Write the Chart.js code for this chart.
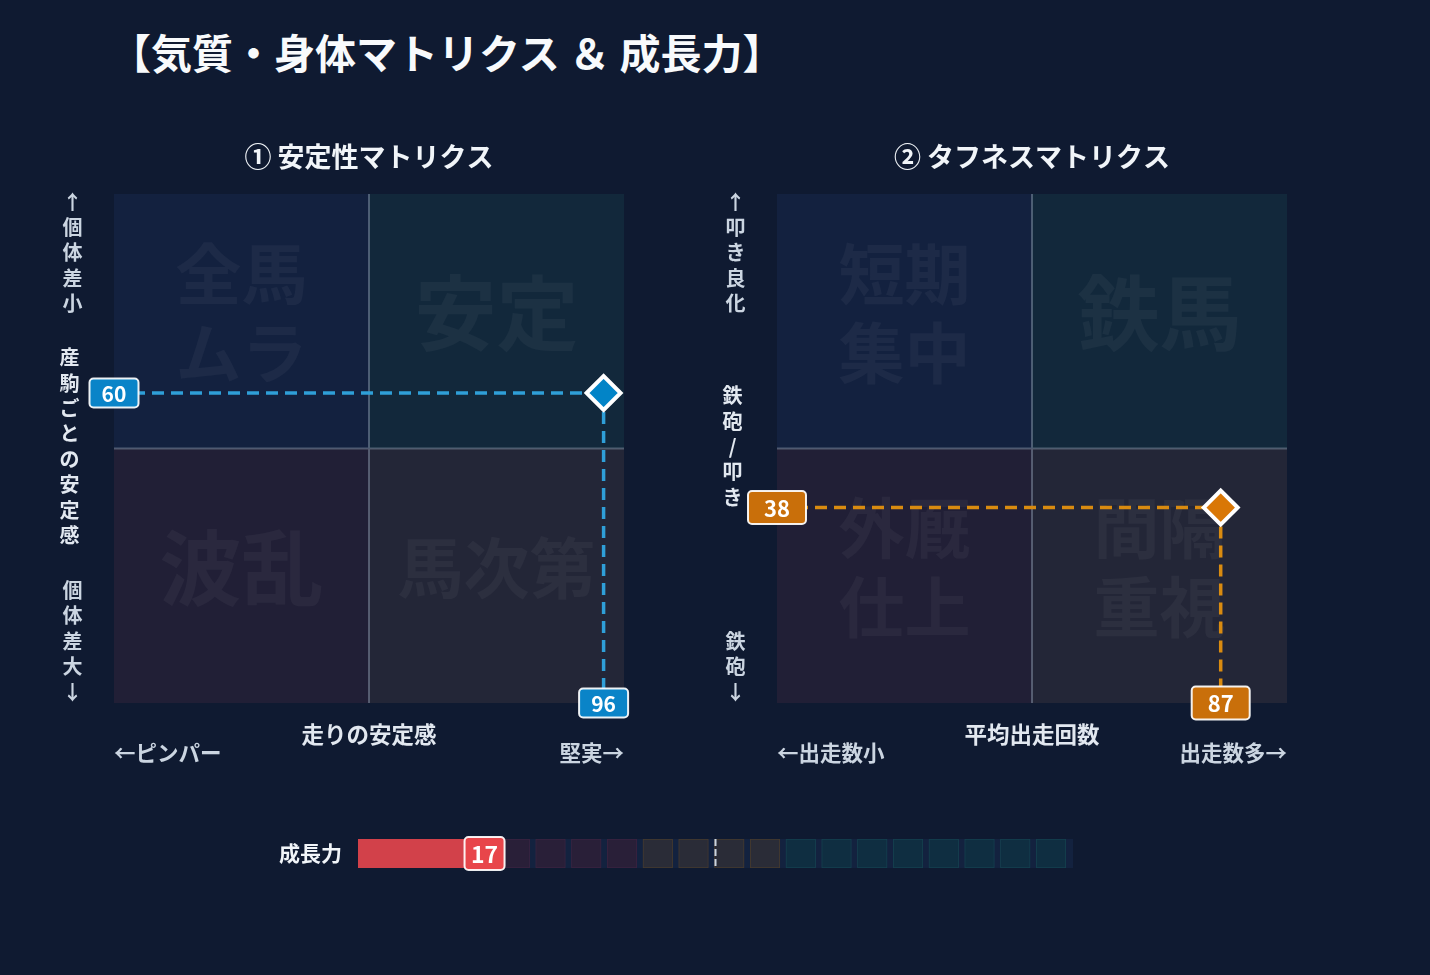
<!DOCTYPE html>
<html lang="ja">
<head>
<meta charset="utf-8">
<title>気質・身体マトリクス ＆ 成長力</title>
<script src="https://cdn.jsdelivr.net/npm/chart.js@4.4.1/dist/chart.umd.min.js"></script>
<style>
  html, body { margin: 0; padding: 0; background: #0f1a31; }
  body { width: 1430px; height: 975px; position: relative; overflow: hidden; font-family: "Noto Sans CJK JP", "Noto Sans", sans-serif; }
  h1 { position: absolute; left: 110px; top: 24px; margin: 0; font-size: 41px; line-height: 54px; font-weight: 700; color: #f8fafc; white-space: nowrap; }
  .box { position: absolute; }
</style>
</head>
<body>
<h1>【気質・身体マトリクス ＆ 成長力】</h1>
<div class="box" style="left:0;top:120px;width:715px;height:680px"><canvas id="stabChart"></canvas></div>
<div class="box" style="left:663px;top:120px;width:715px;height:680px"><canvas id="toughChart"></canvas></div>
<div class="box" style="left:200px;top:820px;width:900px;height:70px"><canvas id="growChart"></canvas></div>

<script>
// ① 安定性マトリクス
const stabTitle = "① 安定性マトリクス";
const stabQuadrants = ["全馬\nムラ", "安定", "波乱", "馬次第"]; // 左上, 右上, 左下, 右下
const stabYLabels = ["↑個体差小", "産駒ごとの安定感", "個体差大↓"];
const stabXLabels = ["←ピンパー", "走りの安定感", "堅実→"];
const stabPoint = [96, 60.9];

// ② タフネスマトリクス
const toughTitle = "② タフネスマトリクス";
const toughQuadrants = ["短期\n集中", "鉄馬", "外厩\n仕上", "間隔\n重視"];
const toughYLabels = ["↑叩き良化", "鉄砲/叩き", "鉄砲↓"];
const toughXLabels = ["←出走数小", "平均出走回数", "出走数多→"];
const toughPoint = [87, 38.4];

// 成長力
const growthLabel = "成長力";
const growthValue = 17;
const growthCells = [0, 5, 10, 15, 20, 25, 30, 35, 40, 45, 50, 55, 60, 65, 70, 75, 80, 85, 90, 95];
const growthZones = [40, 60];
const growthMid = 50;

const FONT = '"Noto Sans CJK JP", "Noto Sans", sans-serif';
const QUAD_FILLS = ["#13213f", "#12283b", "#211f36", "#232637"];

function valueBox(ctx, text, cx, cy, w, h, fill, size) {
  ctx.beginPath();
  ctx.roundRect(cx - w / 2, cy - h / 2, w, h, 4);
  ctx.fillStyle = fill;
  ctx.fill();
  ctx.lineWidth = 2;
  ctx.strokeStyle = "rgba(255,255,255,0.92)";
  ctx.stroke();
  ctx.fillStyle = "#ffffff";
  ctx.font = `700 ${size}px ${FONT}`;
  ctx.textAlign = "center";
  ctx.textBaseline = "middle";
  ctx.fillText(text, cx, cy + 1);
}

const matrixDecor = {
  id: "matrixDecor",
  beforeDatasetsDraw(chart, args, o) {
    const { ctx, chartArea: a, scales: { x, y } } = chart;
    const mx = x.getPixelForValue(50), my = y.getPixelForValue(50);
    const rects = [
      [a.left, a.top, mx, my], [mx, a.top, a.right, my],
      [a.left, my, mx, a.bottom], [mx, my, a.right, a.bottom]
    ];
    ctx.save();
    rects.forEach((r, i) => {
      ctx.fillStyle = QUAD_FILLS[i];
      ctx.fillRect(r[0], r[1], r[2] - r[0], r[3] - r[1]);
      const lines = o.quadrants[i].split("\n");
      const size = (lines.length > 1 || lines[0].length > 2) ? 66 : 82;
      ctx.font = `700 ${size}px ${FONT}`;
      ctx.fillStyle = "rgba(255,255,255,0.045)";
      ctx.textAlign = "center";
      ctx.textBaseline = "middle";
      const cx = (r[0] + r[2]) / 2, cy = (r[1] + r[3]) / 2 - 8;
      lines.forEach((t, k) => ctx.fillText(t, cx, cy + (k - (lines.length - 1) / 2) * 79));
    });
    ctx.strokeStyle = "rgba(148,163,184,0.45)";
    ctx.lineWidth = 2;
    ctx.beginPath();
    ctx.moveTo(mx, a.top); ctx.lineTo(mx, a.bottom);
    ctx.moveTo(a.left, my); ctx.lineTo(a.right, my);
    ctx.stroke();
    ctx.restore();
  },
  afterDatasetsDraw(chart, args, o) {
    const { ctx, chartArea: a, scales: { x, y } } = chart;
    const [vx, vy] = o.point;
    ctx.save();
    valueBox(ctx, String(Math.floor(vy)), a.left, y.getPixelForValue(vy), o.boxW, o.boxH, o.boxFill, o.boxFont);
    valueBox(ctx, String(Math.floor(vx)), x.getPixelForValue(vx), a.bottom, o.boxW, o.boxH, o.boxFill, o.boxFont);

    // title
    ctx.fillStyle = "#f1f5f9";
    ctx.font = `700 27px ${FONT}`;
    ctx.textAlign = "center";
    ctx.textBaseline = "middle";
    ctx.fillText(o.title, (a.left + a.right) / 2, a.top - 37);

    // vertical side labels
    const step = 25.4;
    const top = [...o.yLabels[0]], mid = [...o.yLabels[1]], bot = [...o.yLabels[2]];
    ctx.font = `700 20px ${FONT}`;
    ctx.fillStyle = "#cbd5e1";
    top.forEach((c, i) => ctx.fillText(c, a.left - 41.5, a.top + 8 + i * step));
    bot.forEach((c, i) => ctx.fillText(c, a.left - 41.5, a.bottom - 11 - (bot.length - 1 - i) * step));
    ctx.fillStyle = "#e2e8f0";
    const mc = (a.top + a.bottom) / 2 - 2;
    mid.forEach((c, i) => ctx.fillText(c, a.left - 44.5, mc + (i - (mid.length - 1) / 2) * step));

    // x labels
    ctx.font = `700 22.5px ${FONT}`;
    ctx.fillStyle = "#e2e8f0";
    ctx.fillText(o.xLabels[1], (a.left + a.right) / 2, a.bottom + 31);
    ctx.font = `700 21.5px ${FONT}`;
    ctx.fillStyle = "#cbd5e1";
    ctx.textAlign = "left";
    ctx.fillText(o.xLabels[0], a.left, a.bottom + 50);
    ctx.textAlign = "right";
    ctx.fillText(o.xLabels[2], a.right, a.bottom + 50);
    ctx.restore();
  }
};

function makeMatrix(id, title, quadrants, yLabels, xLabels, point, look) {
  const [px, py] = point;
  return new Chart(document.getElementById(id), {
    type: "scatter",
    data: {
      datasets: [
        {
          data: [{ x: px, y: py }],
          pointStyle: "rectRot",
          pointRadius: 17,
          backgroundColor: look.accent,
          borderColor: "#ffffff",
          borderWidth: 4,
          order: 0
        },
        {
          data: [{ x: 0, y: py }, { x: px, y: py }],
          showLine: true,
          borderColor: look.dash,
          borderWidth: 3.5,
          borderDash: [12, 7],
          pointRadius: 0,
          order: 1
        },
        {
          data: [{ x: px, y: py }, { x: px, y: 0 }],
          showLine: true,
          borderColor: look.dash,
          borderWidth: 3.5,
          borderDash: [12, 7],
          pointRadius: 0,
          order: 2
        }
      ]
    },
    options: {
      responsive: true,
      maintainAspectRatio: false,
      animation: false,
      events: [],
      layout: { padding: { left: 114, right: 91, top: 74, bottom: 97 } },
      scales: {
        x: { type: "linear", min: 0, max: 100, display: false },
        y: { type: "linear", min: 0, max: 100, display: false }
      },
      plugins: {
        legend: { display: false },
        tooltip: { enabled: false },
        matrixDecor: {
          title, quadrants, yLabels, xLabels, point,
          boxW: look.boxW, boxH: look.boxH, boxFill: look.boxFill, boxFont: look.boxFont
        }
      }
    },
    plugins: [matrixDecor]
  });
}

makeMatrix("stabChart", stabTitle, stabQuadrants, stabYLabels, stabXLabels, stabPoint,
  { accent: "#0284c7", dash: "#2f9fd8", boxFill: "#0a84c8", boxW: 49, boxH: 29, boxFont: 21 });
makeMatrix("toughChart", toughTitle, toughQuadrants, toughYLabels, toughXLabels, toughPoint,
  { accent: "#d97706", dash: "#d98b10", boxFill: "#c96f0a", boxW: 58, boxH: 33, boxFont: 22 });

// 成長力バー
function cellFill(s) {
  if (s < growthZones[0]) return "#291f38";
  if (s < growthZones[1]) return "#2a2c37";
  return "#0f2e41";
}
function cellBorder(s) {
  if (s < growthZones[0]) return "#3a2340";
  if (s < growthZones[1]) return "#463a2e";
  return "#15404f";
}

const growthDecor = {
  id: "growthDecor",
  afterDatasetsDraw(chart) {
    const { ctx, chartArea: a, scales: { x } } = chart;
    ctx.save();
    const mx = x.getPixelForValue(growthMid);
    ctx.strokeStyle = "#cbd5e1";
    ctx.lineWidth = 2;
    ctx.setLineDash([7, 3]);
    ctx.beginPath();
    ctx.moveTo(mx, a.top); ctx.lineTo(mx, a.bottom);
    ctx.stroke();
    ctx.setLineDash([]);
    valueBox(ctx, String(growthValue), x.getPixelForValue(growthValue) + 5, (a.top + a.bottom) / 2, 40, 33, "#e8454a", 23);
    ctx.restore();
  }
};

// all three layers share one stack id so they overlap on the same row (values not stacked)
const BAR_H = 29;
new Chart(document.getElementById("growChart"), {
  type: "bar",
  data: {
    labels: [growthLabel],
    datasets: [
      {
        data: [{ x: [0, growthValue], y: growthLabel }],
        backgroundColor: "#d2414a",
        stack: "row", barThickness: BAR_H, order: 0
      },
      {
        data: growthCells.map(s => ({ x: [s - 0.15, s + 4], y: growthLabel })),
        backgroundColor: growthCells.map(cellFill),
        borderColor: growthCells.map(cellBorder),
        borderWidth: 1, borderSkipped: false,
        stack: "row", barThickness: BAR_H, order: 1
      },
      {
        data: [{ x: [0, 100], y: growthLabel }],
        backgroundColor: "#13223f",
        stack: "row", barThickness: BAR_H, order: 2
      }
    ]
  },
  options: {
    indexAxis: "y",
    responsive: true,
    maintainAspectRatio: false,
    animation: false,
    events: [],
    layout: { padding: { left: 0, right: 27, top: 19, bottom: 22 } },
    scales: {
      x: { type: "linear", min: 0, max: 100, stacked: false, display: false },
      y: {
        grid: { display: false, drawTicks: false },
        border: { display: false },
        ticks: { color: "#f1f5f9", padding: 16, font: { family: FONT, size: 21, weight: "700" } },
        afterFit(scale) {
          scale.width = 158;
          scale.paddingTop = 0;
          scale.paddingBottom = 0;
        }
      }
    },
    plugins: { legend: { display: false }, tooltip: { enabled: false } }
  },
  plugins: [growthDecor]
});
</script>
</body>
</html>
